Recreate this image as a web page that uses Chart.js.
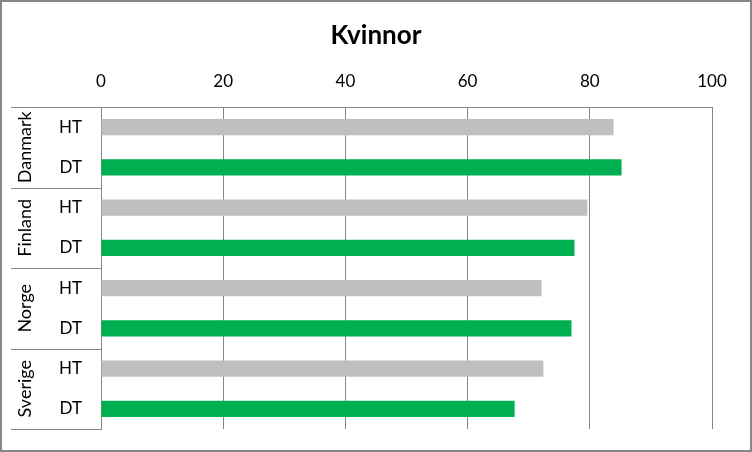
<!DOCTYPE html>
<html>
<head>
<meta charset="utf-8">
<script src="https://cdn.jsdelivr.net/npm/chart.js@4.4.0/dist/chart.umd.min.js"></script>
<style>
  html, body { margin: 0; padding: 0; background: #fff; }
  #wrap { width: 752px; height: 452px; position: relative; }
</style>
</head>
<body>
<div id="wrap"><canvas id="chart" width="752" height="452"></canvas></div>
<script>
// Data
const countries = ['Danmark', 'Finland', 'Norge', 'Sverige'];
const periods = ['HT', 'DT'];
const htValues = [83.9, 79.6, 72.1, 72.4];
const dtValues = [85.2, 77.5, 77.0, 67.7];
const xTicks = [0, 20, 40, 60, 80, 100];

const GREY = '#BFBFBF';
const GREEN = '#00B050';
const LINE = '#868686';
const FONT = 'Lato, "Open Sans", sans-serif';

// One row per country/period pair
const labels = [];
const values = [];
const colors = [];
countries.forEach((c, i) => {
  labels.push(periods[0]);
  values.push(htValues[i]);
  colors.push(GREY);
  labels.push(periods[1]);
  values.push(dtValues[i]);
  colors.push(GREEN);
});

/**
 * Title, outer border, group labels and separators
 */
const decorPlugin = {
  id: 'decor',
  afterDraw(chart) {
    const ctx = chart.ctx;
    const area = chart.chartArea;
    const yScale = chart.scales.y;
    ctx.save();

    // Title
    ctx.fillStyle = '#000';
    ctx.font = 'bold 26px ' + FONT;
    ctx.textAlign = 'center';
    ctx.textBaseline = 'middle';
    ctx.fillText('Kvinnor', 376, 36);

    // Group separators on the left
    ctx.strokeStyle = LINE;
    ctx.lineWidth = 1;
    const step = (area.bottom - area.top) / labels.length;
    for (let g = 0; g <= countries.length; g++) {
      const y = Math.round(area.top + g * 2 * step) + 0.5;
      ctx.beginPath();
      ctx.moveTo(11, y);
      ctx.lineTo(area.left, y);
      ctx.stroke();
    }

    // Rotated country names
    ctx.font = '18px ' + FONT;
    ctx.fillStyle = '#000';
    countries.forEach((c, i) => {
      const yc = (yScale.getPixelForValue(i * 2) + yScale.getPixelForValue(i * 2 + 1)) / 2;
      ctx.save();
      ctx.beginPath();
      ctx.rect(11, area.top, area.left - 11, area.bottom - area.top);
      ctx.clip();
      ctx.translate(25, yc);
      ctx.rotate(-Math.PI / 2);
      ctx.fillText(c, 0, 0);
      ctx.restore();
    });

    // Outer border
    ctx.strokeStyle = LINE;
    ctx.lineWidth = 2;
    ctx.strokeRect(1, 1, chart.width - 2, chart.height - 2);
    ctx.restore();
  },
};

new Chart(document.getElementById('chart'), {
  type: 'bar',
  data: {
    labels: labels,
    datasets: [
      {
        data: values,
        backgroundColor: colors,
        borderWidth: 0,
        barPercentage: 0.4,
        categoryPercentage: 1,
      },
    ],
  },
  options: {
    indexAxis: 'y',
    responsive: false,
    animation: false,
    layout: { padding: { top: 0, left: 0, right: 40, bottom: 23 } },
    plugins: {
      legend: { display: false },
      tooltip: { enabled: false },
    },
    scales: {
      x: {
        position: 'top',
        min: 0,
        max: 100,
        afterBuildTicks: (scale) => {
          scale.ticks = xTicks.map((v) => ({ value: v }));
        },
        afterFit: (scale) => {
          scale.height = 107;
        },
        grid: { color: LINE, lineWidth: 1, drawTicks: false },
        border: { display: true, color: LINE },
        ticks: {
          padding: 15,
          color: '#000',
          font: { family: FONT, size: 17 },
        },
      },
      y: {
        afterFit: (scale) => {
          scale.width = 101;
          // tick padding would otherwise push the plot bottom up
          scale.paddingTop = 0;
          scale.paddingBottom = 0;
        },
        grid: { display: false, drawTicks: false },
        border: { display: true, color: LINE },
        ticks: {
          padding: 19,
          color: '#000',
          font: { family: FONT, size: 17 },
        },
      },
    },
  },
  plugins: [decorPlugin],
});
</script>
</body>
</html>
